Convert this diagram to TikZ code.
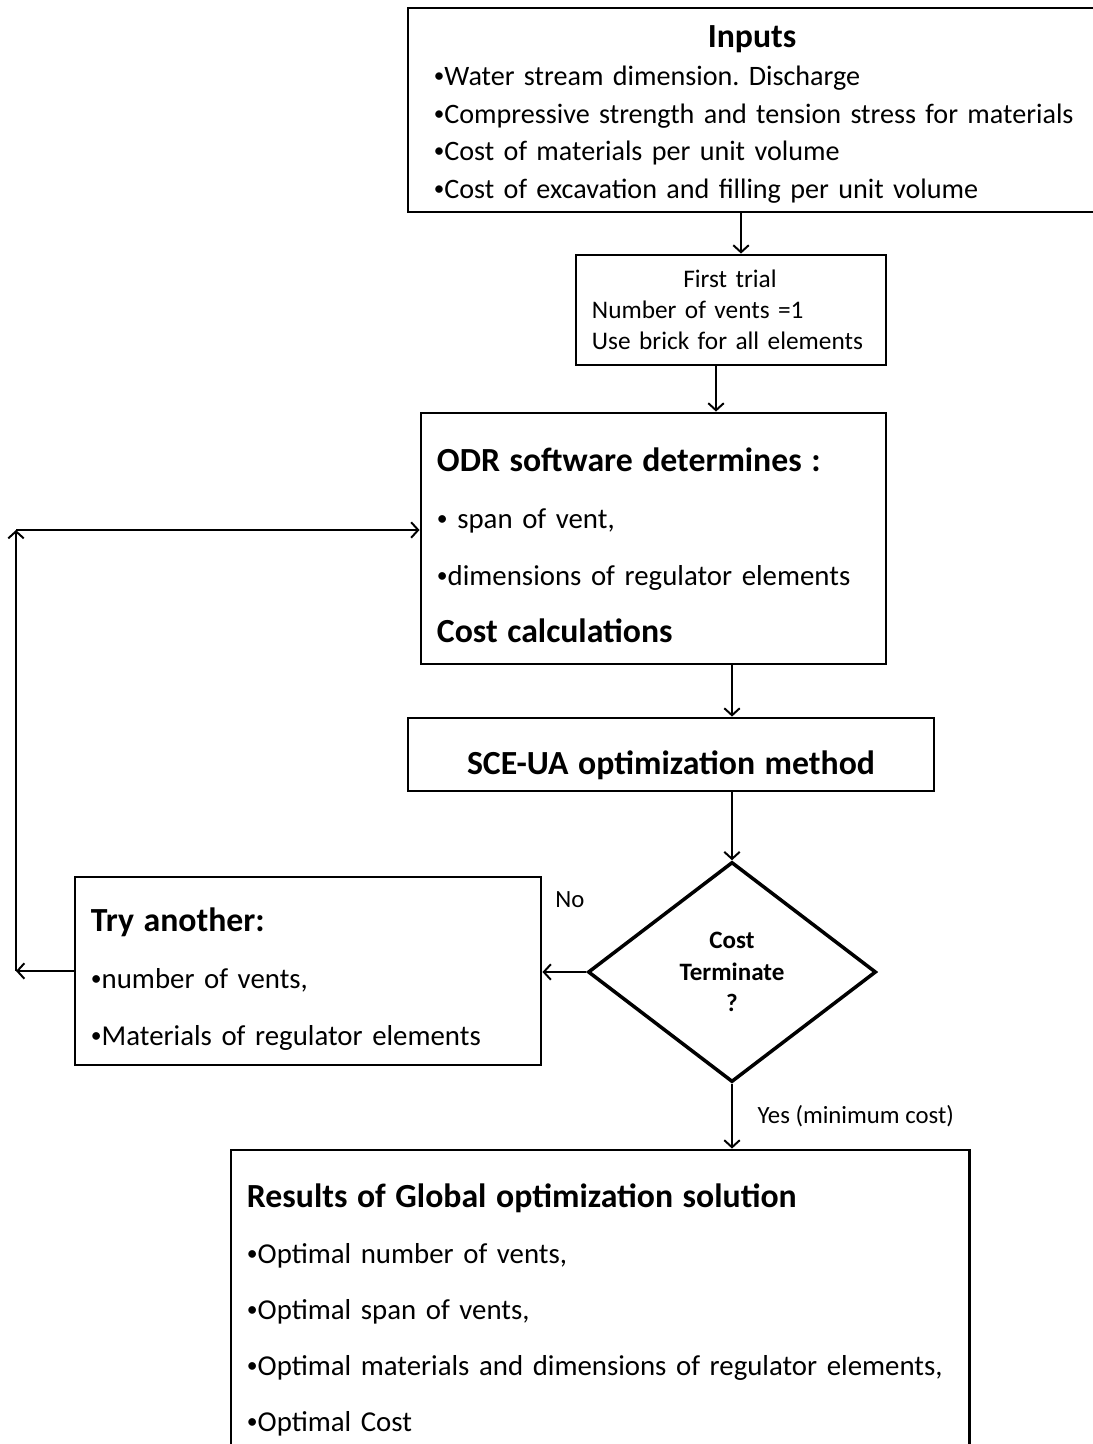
\documentclass[tikz,border=0pt]{standalone}
\usepackage{fontspec}
\setmainfont{Carlito}
\usetikzlibrary{shapes, arrows, arrows.meta}
\tikzstyle{process} = [rectangle, draw=black, line width=2pt, align=left, inner xsep=0.4cm, inner ysep=0pt, font=\fontsize{20.5pt}{40.5pt}\selectfont]
\tikzstyle{trialbox} = [process, font=\fontsize{18pt}{22pt}\selectfont]
\tikzstyle{decision} = [diamond, draw=black, line width=2.5pt, minimum width=7.2cm, minimum height=5.5cm, inner sep=0pt, align=center, font=\fontsize{17.8pt}{22.4pt}\selectfont\bfseries]
\tikzstyle{label} = [font=\fontsize{17.6pt}{21pt}\selectfont]
\tikzstyle{arrow} = [line width=1.4pt, ->, >={Straight Barb[length=5pt,width=11pt]}]
\newcommand{\headtxt}[1]{{\fontsize{24pt}{40.5pt}\selectfont\bfseries #1}}
\newcommand{\bul}{\raisebox{0.1em}{\scalebox{0.75}{•}}}

\begin{document}
\begin{tikzpicture}[x=0.025cm, y=-0.025cm]
    \useasboundingbox (0,0) rectangle (1092,1444);

    \node (inputs) [process, inner xsep=0.65cm, text width=16cm, minimum height=5.1cm, font=\fontsize{20pt}{26.7pt}\selectfont] at (754,110)
        {\makebox[15.9cm]{\rule{0pt}{22pt}\headtxt{Inputs}}\\
         \bul Water stream dimension.\ Discharge\\
         \bul Compressive strength and tension stress for materials\\
         \bul Cost of materials per unit volume\\
         \bul Cost of excavation and filling per unit volume};
    \node (trial) [trialbox, text width=6.95cm, minimum height=2.75cm] at (731,310)
        {\makebox[6.9cm]{First trial}\\
         Number of vents =1\\
         Use brick for all elements};
    \node (odr) [process, text width=10.825cm, minimum height=6.275cm] at (653.5,538.5)
        {\rule{0pt}{26pt}\headtxt{ODR software determines :}\\
         \bul{} span of vent,\\
         \bul dimensions of regulator elements\\
         \headtxt{Cost calculations}};
    \node (sce) [process, align=center, text width=12.35cm, minimum height=1.825cm] at (671,754.5)
        {\rule{0pt}{32pt}\headtxt{SCE-UA optimization method}};
    \node (check) [decision] at (732,972) {Cost\\Terminate\\?};
    \node (try) [process, text width=10.85cm, minimum height=4.7cm] at (308,971)
        {\rule{0pt}{28.5pt}\headtxt{Try another:}\\
         \bul number of vents,\\
         \bul Materials of regulator elements};
    \node (results) [process, text width=17.65cm, minimum height=8cm, font=\fontsize{20.5pt}{39.8pt}\selectfont] at (600,1310)
        {\headtxt{Results of Global optimization solution}\\
         \bul Optimal number of vents,\\
         \bul Optimal span of vents,\\
         \bul Optimal materials and dimensions of regulator elements,\\
         \bul Optimal Cost};
    \node (no) [label] at (570,900) {No};
    \coordinate (loopB) at (16,971);
    \coordinate (loopT) at (16,530);

    \draw [arrow] ([xshift=0.25cm]trial.north |- inputs.south) -- ([xshift=0.25cm]trial.north);
    \draw [arrow] ([xshift=-0.375cm]trial.south) -- ([xshift=-0.375cm]trial.south |- odr.north);
    \draw [arrow] (check.north |- odr.south) -- (check.north |- sce.north);
    \draw [arrow] (check.north |- sce.south) -- (check.north);
    \draw [arrow] (check.west) -- (try.east |- check.west);
    \draw [arrow] (try.west) -- (loopB);
    \draw [arrow] (loopB) -- (loopT);
    \draw [arrow] (loopT) -- (loopT -| odr.west);
    \draw [arrow] (check.south) -- node[label, anchor=west, xshift=0.5cm] {Yes (minimum cost)} (check.south |- results.north);
\end{tikzpicture}
\end{document}
